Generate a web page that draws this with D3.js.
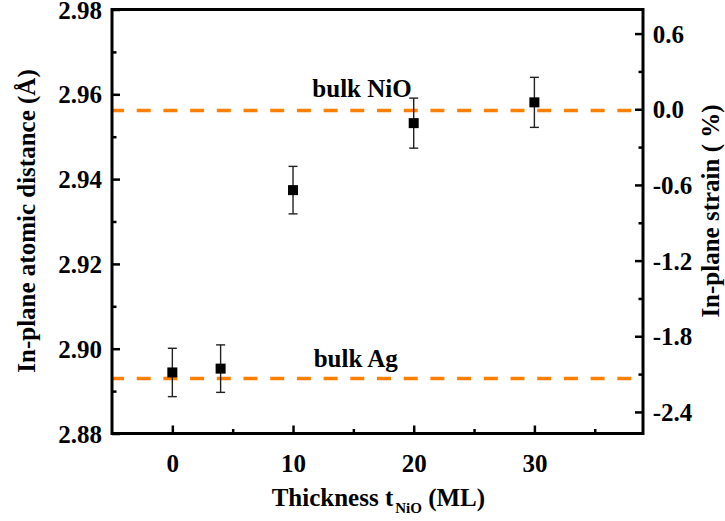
<!DOCTYPE html>
<html><head><meta charset="utf-8">
<script src="https://cdn.jsdelivr.net/npm/d3@7"></script>
<style>
html,body{margin:0;padding:0;background:#fff;}
text{font-family:"Liberation Serif","Times New Roman",serif;font-weight:bold;fill:#000;}
</style></head>
<body><svg id="c" width="725" height="521"></svg>
<script>
// ---- data ----
const thickness = [0, 4, 10, 20, 30];
const distance  = [2.8944, 2.8953, 2.9374, 2.9532, 2.9581];
const distErr   = [0.0057, 0.0056, 0.0056, 0.0059, 0.0059];
const bulkNames  = ["bulk NiO", "bulk Ag"];
const bulkValues = [2.9562, 2.8930];
const xMajorTicks = [0, 10, 20, 30];
const xMinorTicks = [5, 15, 25, 35];
const yMajorTicks = [2.88, 2.90, 2.92, 2.94, 2.96, 2.98];
const yMinorTicks = [2.89, 2.91, 2.93, 2.95, 2.97];
const strainMajorTicks = [0.6, 0.0, -0.6, -1.2, -1.8, -2.4];
const strainMajorLabels = ["0.6", "0.0", "-0.6", "-1.2", "-1.8", "-2.4"];
const strainMinorTicks = [0.3, -0.3, -0.9, -1.5, -2.1];
const xDomain = [-5, 39];
const yDomain = [2.88, 2.98];
const strainDomain = [-2.571, 0.791];

// ---- layout ----
const W = 725, H = 521;
const m = {left: 112, right: 82, top: 9.5, bottom: 87.5};
const svg = d3.select("#c");
const x = d3.scaleLinear().domain(xDomain).range([m.left, W - m.right]);
const y = d3.scaleLinear().domain(yDomain).range([H - m.bottom, m.top]);
const y2 = d3.scaleLinear().domain(strainDomain).range([H - m.bottom, m.top]);
const FS = 25;

// bulk dashed lines
const orange = "#ff8000";
svg.append("g").selectAll("line").data(bulkValues).join("line")
  .attr("x1", x(xDomain[0])).attr("x2", x(xDomain[1]))
  .attr("y1", d => y(d)).attr("y2", d => y(d))
  .attr("stroke", orange).attr("stroke-width", 3.5)
  .attr("stroke-dasharray", "14,12.7").attr("stroke-dashoffset", 2);

const labelOffsets = [13.8, 11.6];
svg.append("g").selectAll("text").data(bulkNames).join("text")
  .attr("x", (d, i) => x(11.6) + (i === 1 ? 1.3 : 0))
  .attr("y", (d, i) => y(bulkValues[i]) - labelOffsets[i])
  .attr("font-size", FS).text(d => d);

// error bars + markers
const pts = thickness.map((t, i) => ({t, v: distance[i], e: distErr[i]}));
const eb = svg.append("g").attr("stroke", "#222").attr("stroke-width", 1.4);
pts.forEach(p => {
  eb.append("line").attr("x1", x(p.t)).attr("x2", x(p.t))
    .attr("y1", y(p.v + p.e)).attr("y2", y(p.v - p.e));
  [p.v + p.e, p.v - p.e].forEach(v => eb.append("line")
    .attr("x1", x(p.t) - 4.5).attr("x2", x(p.t) + 4.5)
    .attr("y1", y(v)).attr("y2", y(v)));
});
svg.append("g").selectAll("rect").data(pts).join("rect")
  .attr("x", d => x(d.t) - 5).attr("y", d => y(d.v) - 5)
  .attr("width", 10).attr("height", 10).attr("fill", "#000");

// axes
function styleAxis(g) {
  g.select(".domain").remove();
  g.selectAll(".tick line").attr("stroke", "#000").attr("stroke-width", 2.5);
  g.selectAll(".tick text").attr("font-size", FS).attr("font-family", null);
}
const bottom = H - m.bottom, right = W - m.right;
// bottom
svg.append("g").attr("transform", `translate(0,${bottom})`)
  .call(d3.axisBottom(x).tickValues(xMajorTicks).tickSize(-8).tickPadding(21).tickFormat(d3.format("d")))
  .call(styleAxis);
svg.append("g").attr("transform", `translate(0,${bottom})`)
  .call(d3.axisBottom(x).tickValues(xMinorTicks).tickSize(-4.5).tickFormat(""))
  .call(styleAxis);
// left
svg.append("g").attr("transform", `translate(${m.left},0)`)
  .call(d3.axisLeft(y).tickValues(yMajorTicks).tickSize(-8).tickPadding(10).tickFormat(d3.format(".2f")))
  .call(styleAxis)
  .call(g => g.selectAll(".tick text").attr("x", -10).attr("dy", "0.34em"));
svg.append("g").attr("transform", `translate(${m.left},0)`)
  .call(d3.axisLeft(y).tickValues(yMinorTicks).tickSize(-4.5).tickFormat(""))
  .call(styleAxis);
// right
svg.append("g").attr("transform", `translate(${right},0)`)
  .call(d3.axisRight(y2).tickValues(strainMajorTicks).tickSize(-8)
    .tickFormat((d, i) => strainMajorLabels[i]))
  .call(styleAxis)
  .call(g => g.selectAll(".tick text").attr("x", 9.7).attr("dy", "0.34em"));
svg.append("g").attr("transform", `translate(${right},0)`)
  .call(d3.axisRight(y2).tickValues(strainMinorTicks).tickSize(-4.5).tickFormat(""))
  .call(styleAxis);

// frame
svg.append("rect").attr("x", m.left).attr("y", m.top)
  .attr("width", right - m.left).attr("height", bottom - m.top)
  .attr("fill", "none").attr("stroke", "#000").attr("stroke-width", 3);

// axis titles
svg.append("text").attr("transform", `translate(35,221) rotate(-90)`)
  .attr("text-anchor", "middle").attr("font-size", FS)
  .text("In-plane atomic distance (Å)");
svg.append("text").attr("transform", `translate(719,211) rotate(-90)`)
  .attr("text-anchor", "middle").attr("font-size", FS)
  .text("In-plane strain ( %)");
const xt = svg.append("text").attr("x", 271.7).attr("y", 506).attr("font-size", FS);
xt.append("tspan").text("Thickness t");
xt.append("tspan").attr("font-size", 15).attr("dy", 7).attr("dx", 2).text("NiO");
xt.append("tspan").attr("dy", -7).text(" (ML)");
</script></body></html>
